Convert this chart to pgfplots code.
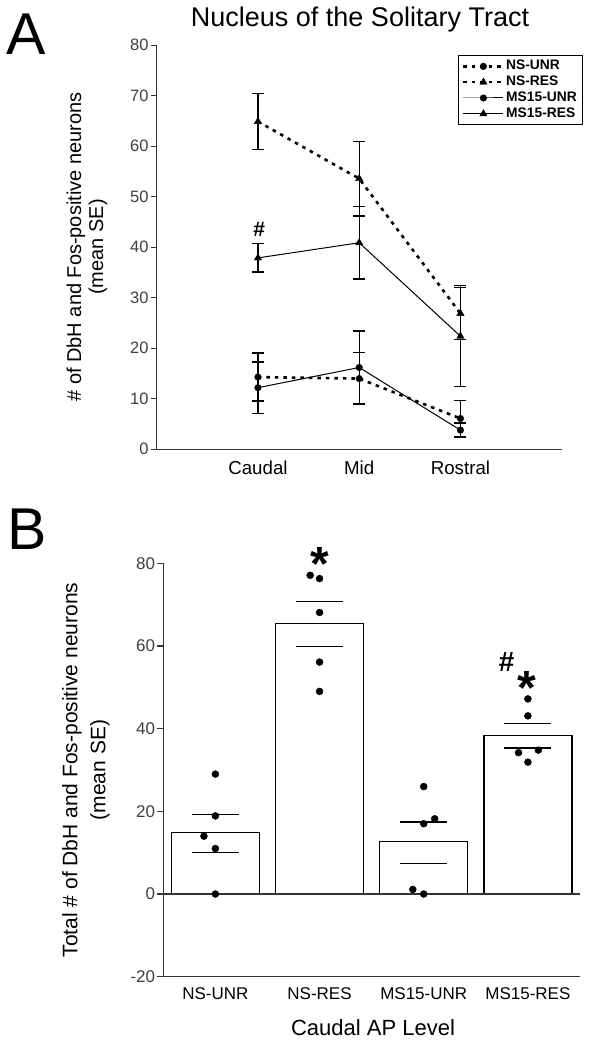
\documentclass[border=0pt]{standalone}
\usepackage{pgfplots}
\pgfplotsset{compat=1.18}
\usepackage{fontspec}
\setmainfont{Liberation Sans}
\begin{document}
\begin{tikzpicture}[x=1pt,y=1pt]
\useasboundingbox (0,0) rectangle (592,1050);

% ---------------- Panel A ----------------
\begin{axis}[
  at={(156.7pt,600.7pt)}, anchor=south west,
  scale only axis, width=405pt, height=404pt,
  xmin=0, xmax=4, ymin=0, ymax=80,
  axis lines=left,
  axis line style={-, line width=1.2pt, black!80},
  xtick={1,2,3}, xticklabels={Caudal,Mid,Rostral},
  x tick style={draw=none},
  ytick={0,10,20,30,40,50,60,70,80},
  yticklabels={0,10,20,30,40,50,60,70,80},
  tick align=outside, major tick length=6pt,
  y tick style={line width=1.2pt, black!80},
  yticklabel style={font=\fontsize{16.5}{18}\selectfont, text=black!75, inner sep=2pt},
  xticklabel style={font=\fontsize{18.7}{20}\selectfont, inner sep=5pt},
  clip=false,
  legend cell align=left,
  legend image code/.code={\draw[mark repeat=2,mark phase=2,#1] plot coordinates {(0pt,0pt) (20pt,0pt) (40pt,0pt)};},
  legend style={at={(1.052,0.976)}, anchor=north east, draw=black, line width=1pt, fill=white,
    font=\bfseries\fontsize{13.8}{15}\selectfont, inner xsep=4pt, inner ysep=3pt, row sep=0pt,
    nodes={inner sep=1.5pt, text height=10pt, text depth=2.8pt}},
  error bars/y dir=both, error bars/y explicit,
  error bars/error bar style={solid, line width=1.3pt, black},
  error bars/error mark options={rotate=90, mark size=6pt, line width=1.3pt, solid, black},
]
\addplot[black, line width=2.6pt, dash pattern=on 3.5pt off 5pt, mark=*, mark size=3.3pt, mark options={solid, line width=0.4pt}]
  coordinates {(1,14.3) +- (0,4.75) (2,14.0) +- (0,5.1) (3,6.1) +- (0,3.5)};
\addlegendentry{NS-UNR}
\addplot[black, line width=2.6pt, dash pattern=on 3.5pt off 5pt, mark=triangle*, mark size=4.2pt, mark options={solid, line width=0.4pt}]
  coordinates {(1,64.9) +- (0,5.6) (2,53.6) +- (0,7.4) (3,26.9) +- (0,5.2)};
\addlegendentry{NS-RES}
\addplot[black, line width=1pt, mark=*, mark size=3.3pt, mark options={solid, line width=0.4pt}]
  coordinates {(1,12.2) +- (0,5.1) (2,16.2) +- (0,7.2) (3,3.8) +- (0,1.4)};
\addlegendentry{MS15-UNR}
\addplot[black, line width=1pt, mark=triangle*, mark size=4.2pt, mark options={solid, line width=0.4pt}]
  coordinates {(1,37.9) +- (0,2.8) (2,40.9) +- (0,7.2) (3,22.4) +- (0,10.0)};
\addlegendentry{MS15-RES}
\end{axis}

% ---------------- Panel B ----------------
\begin{axis}[
  at={(163.3pt,73.3pt)}, anchor=south west,
  scale only axis, width=416.7pt, height=413.4pt,
  xmin=-0.5, xmax=3.5, ymin=-20, ymax=80,
  axis lines=left,
  axis line style={-, line width=1.2pt, black!80},
  xtick={0,1,2,3}, xticklabels={NS-UNR,NS-RES,MS15-UNR,MS15-RES},
  x tick style={draw=none},
  ytick={-20,0,20,40,60,80},
  yticklabels={-20,0,20,40,60,80},
  tick align=outside, major tick length=6pt,
  y tick style={line width=1.2pt, black!80},
  yticklabel style={font=\fontsize{17}{18}\selectfont, text=black!75, inner sep=2pt},
  xticklabel style={font=\fontsize{17}{19}\selectfont, inner sep=5pt},
  clip=false,
]
\addplot[ybar, bar width=0.845, bar shift=0pt, fill=white, draw=black, line width=1.2pt]
  coordinates {(0,14.8) (1,65.5) (2,12.7) (3,38.3)};
\draw[line width=1.2pt, black!80] (axis cs:-0.5,0) -- (axis cs:3.5,0);
\addplot[only marks, mark=-, mark size=23.5pt, mark options={line width=1.3pt, black}]
  coordinates {(0,19.3) (0,10.0) (1,70.7) (1,59.8) (2,17.4) (2,7.4) (3,41.3) (3,35.3)};
\addplot[only marks, mark=*, mark size=3.5pt, black]
  coordinates {(0,29.0) (0,18.9) (-0.11,14.0) (0,11.0) (0,0)
               (0.91,77.1) (1,76.3) (1,68.1) (1,56.1) (1,49.0)
               (2,26.0) (2,17.0) (2.105,18.2) (1.895,1.1) (2,0)
               (3,47.2) (3,43.1) (2.91,34.2) (3.1,34.8) (3,31.9)};
\end{axis}

% ---------------- texts ----------------
\node[anchor=base, font=\fontsize{27}{30}\selectfont] at (360,1023.3) {Nucleus of the Solitary Tract};
\node[anchor=base west, font=\fontsize{59}{60}\selectfont, inner sep=0pt] at (6.5,995.5) {A};
\node[anchor=base west, font=\fontsize{59}{60}\selectfont, inner sep=0pt] at (7.5,500) {B};
\node[rotate=90, align=center, font=\fontsize{20}{22}\selectfont] at (87,803) {\# of DbH and Fos-positive neurons\\(mean SE)};
\node[rotate=90, align=center, font=\fontsize{21}{28}\selectfont] at (86,280) {Total \# of DbH and Fos-positive neurons\\(mean SE)};
\node[anchor=base, font=\fontsize{22}{24}\selectfont] at (373,14) {Caudal AP Level};
\node[anchor=base, font=\bfseries\fontsize{21}{22}\selectfont, inner sep=0pt] at (259.3,813.5) {\#};
\node[anchor=base, font=\bfseries\fontsize{48}{48}\selectfont, inner sep=0pt] at (320,469.2) {*};
\node[anchor=base, font=\bfseries\fontsize{48}{48}\selectfont, inner sep=0pt] at (526.7,345.5) {*};
\node[anchor=base, font=\bfseries\fontsize{28}{30}\selectfont, inner sep=0pt] at (506.7,378.5) {\#};
\end{tikzpicture}
\end{document}
